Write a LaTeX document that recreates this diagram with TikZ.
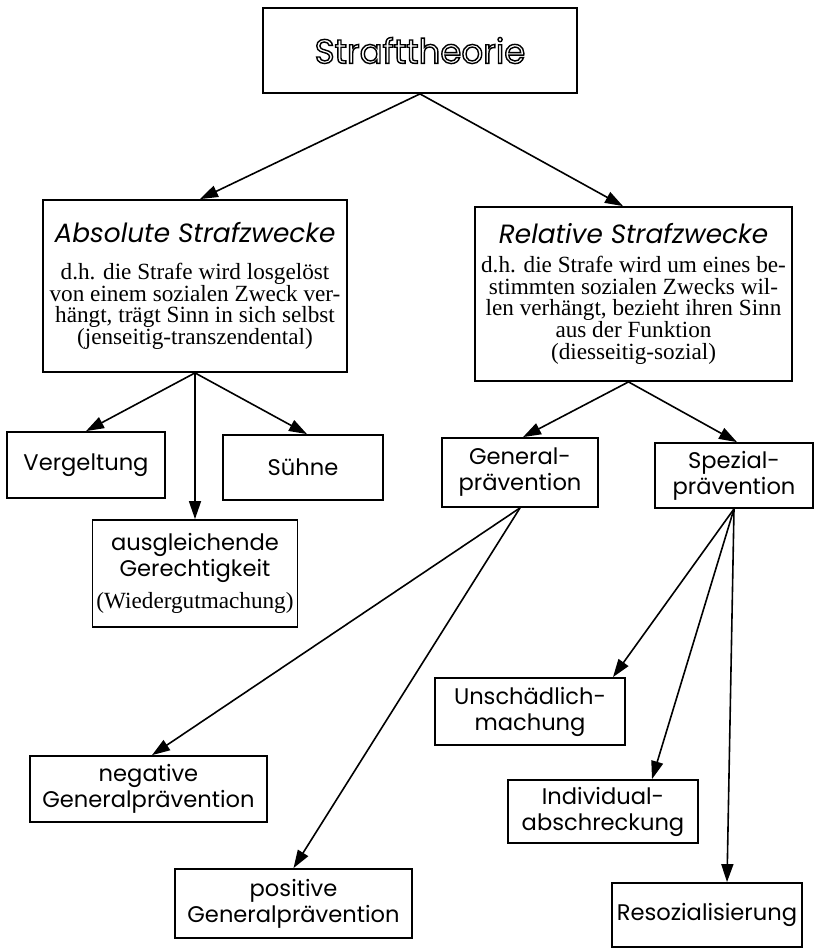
\documentclass[tikz,border=0pt]{standalone}
\usepackage{fontspec}
\setmainfont{Liberation Serif}
\newfontfamily\gothic{Poppins}
\usepackage{tikz}
\usetikzlibrary{arrows.meta}
\newcommand{\outlined}[1]{\special{pdf:code 1 Tr 0.7 w}#1\special{pdf:code 0 Tr}}
\newcommand{\sttextfont}{\fontsize{11.6}{10.9}\selectfont\lineskiplimit -5pt\relax}
\tikzset{
  st diagram/.style={x=0.5pt, y=-0.5pt, line join=miter},
  st box/.style={draw, line width=0.9pt, align=center, inner sep=2pt,
    font=\gothic\fontsize{11.3}{13}\selectfont},
  st text box/.style={st box, font=\sttextfont},
  st title/.style={st box, font=\gothic\fontsize{17}{20}\selectfont},
  st arrow/.style={-{Triangle[length=9pt,width=6pt]}, line width=0.8pt}
}
\newcommand{\sthead}[1]{{\gothic\itshape\fontsize{13.2}{15}\selectfont #1}}
\begin{document}
\begin{tikzpicture}[st diagram]
\useasboundingbox (0,0) rectangle (815,948);
\node[st title,minimum width=157pt,minimum height=42.5pt] (theory) at (420,50.5) {\outlined{Strafttheorie}};
\node[st text box,minimum width=152pt,minimum height=86pt] (absolute) at (195,286)
  {\sthead{Absolute Strafzwecke}\\[7.5pt]
   d.h. die Strafe wird losgelöst\\von einem sozialen Zweck ver-\\hängt, trägt Sinn in sich selbst\\(jenseitig-transzendental)};
\node[st text box,minimum width=158.5pt,minimum height=87pt] (relative) at (633.5,294)
  {\sthead{Relative Strafzwecke}\\[3.5pt]
   d.h. die Strafe wird um eines be-\\stimmten sozialen Zwecks wil-\\len verhängt, bezieht ihren Sinn\\aus der Funktion\\(diesseitig-sozial)};
\node[st box,minimum width=79pt,minimum height=33pt] (vergeltung) at (86,465) {Vergeltung};
\node[st box,minimum width=80pt,minimum height=32.5pt] (suehne) at (303,467.5) {Sühne};
\node[st box,minimum width=102pt,minimum height=53.5pt] (ausgleich) at (195,573.5)
  {ausgleichende\\Gerechtigkeit\\[3pt]{\rmfamily\fontsize{11.6}{12}\selectfont(Wiedergutmachung)}};
\node[st box,minimum width=78pt,minimum height=34.5pt] (general) at (520,472.5) {General-\\prävention};
\node[st box,minimum width=79pt,minimum height=32.5pt] (spezial) at (734,475.5) {Spezial-\\prävention};
\node[st box,minimum width=118.5pt,minimum height=33pt] (negative) at (148.5,789) {negative\\Generalprävention};
\node[st box,minimum width=118.5pt,minimum height=34.5pt] (positive) at (293.5,903.5) {positive\\Generalprävention};
\node[st box,minimum width=95pt,minimum height=33.5pt] (unschaedlich) at (530,711.5) {Unschädlich-\\machung};
\node[st box,minimum width=95pt,minimum height=31.5pt] (individual) at (603,811.5) {Individual-\\abschreckung};
\node[st box,minimum width=95pt,minimum height=32pt] (resozial) at (707,915) {Resozialisierung};
% oberste Ebene
\draw[st arrow] (theory.south) -- ([xshift=2.5pt]absolute.north);
\draw[st arrow] (theory.south) -- ([xshift=-5.25pt]relative.north);
% absolute Strafzwecke
\draw[st arrow] (absolute.south) -- (vergeltung.north);
\draw[st arrow] (absolute.south) -- (ausgleich.north);
\draw[st arrow] (absolute.south) -- ([xshift=2pt]suehne.north);
% relative Strafzwecke
\draw[st arrow] ([xshift=-2.5pt]relative.south) -- ([xshift=1.5pt]general.north);
\draw[st arrow] ([xshift=-2.5pt]relative.south) -- ([xshift=1.5pt]spezial.north);
\draw[st arrow] (general.south) -- ([xshift=1.75pt]negative.north);
\draw[st arrow] (general.south) -- (positive.north);
\draw[st arrow] (spezial.south) -- ([xshift=41.5pt]unschaedlich.north);
\draw[st arrow] (spezial.south) -- ([xshift=24.5pt]individual.north);
\draw[st arrow] (spezial.south) -- ([xshift=10pt]resozial.north);
\end{tikzpicture}
\end{document}
